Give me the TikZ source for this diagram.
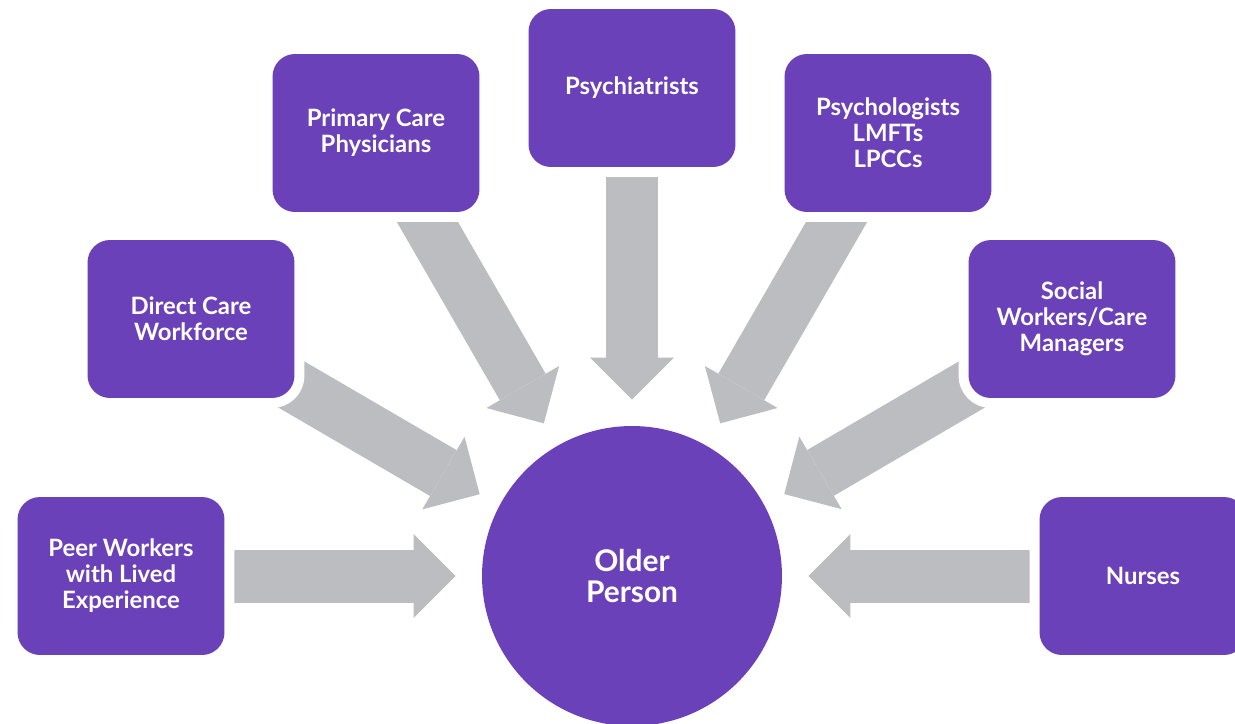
\documentclass[tikz,border=0pt]{standalone}
\usepackage{fontspec}
\setmainfont{Lato}
\usetikzlibrary{arrows.meta,backgrounds}
\definecolor{olderpurple}{RGB}{106,65,184}
\definecolor{arrowgray}{RGB}{188,189,192}

\begin{document}
\begin{tikzpicture}[x=0.02cm, y=-0.02cm,
	role/.style={fill=olderpurple, text=white, rounded corners=0.45cm,
	minimum width=4.14cm, minimum height=3.16cm, align=center,
	font=\fontsize{13.6}{14.8}\selectfont\bfseries,
	preaction={draw=white, line width=0.4cm}},
	person/.style={circle, fill=olderpurple, text=white, minimum size=6cm,
	align=center, font=\fontsize{17}{17.5}\selectfont\bfseries},
	flow/.style={draw=arrowgray, line width=1.06cm,
	-{Triangle[length=0.84cm, width=1.68cm, line width=0pt]}, shorten >=0.52cm}]
\useasboundingbox (0,0) rectangle (1235,724);
\node[person] (older) at (632,576) {Older\\Person};
\node[role] (peer) at (121,576) {Peer Workers\\with Lived\\Experience};
\node[role] (direct) at (191,319) {Direct Care\\Workforce};
\node[role] (primary) at (376,133) {Primary Care\\Physicians};
\node[role] (psychiatrists) at (632,88) {Psychiatrists};
\node[role] (psychologists) at (888,133) {Psychologists\\LMFTs\\LPCCs};
\node[role] (social) at (1072,319) {Social\\Workers/Care\\Managers};
\node[role] (nurses) at (1143,576) {Nurses};
\begin{scope}[on background layer]
\draw[flow] (peer.center) -- (older);
\draw[flow, transform canvas={yshift=-0.14cm}] (direct.center) -- (older);
\draw[flow] (primary.center) -- (older);
\draw[flow] (psychiatrists.center) -- (older);
\draw[flow] (psychologists.center) -- (older);
\draw[flow, transform canvas={yshift=-0.14cm}] (social.center) -- (older);
\draw[flow] (nurses.center) -- (older);
\end{scope}
\end{tikzpicture}
\end{document}
